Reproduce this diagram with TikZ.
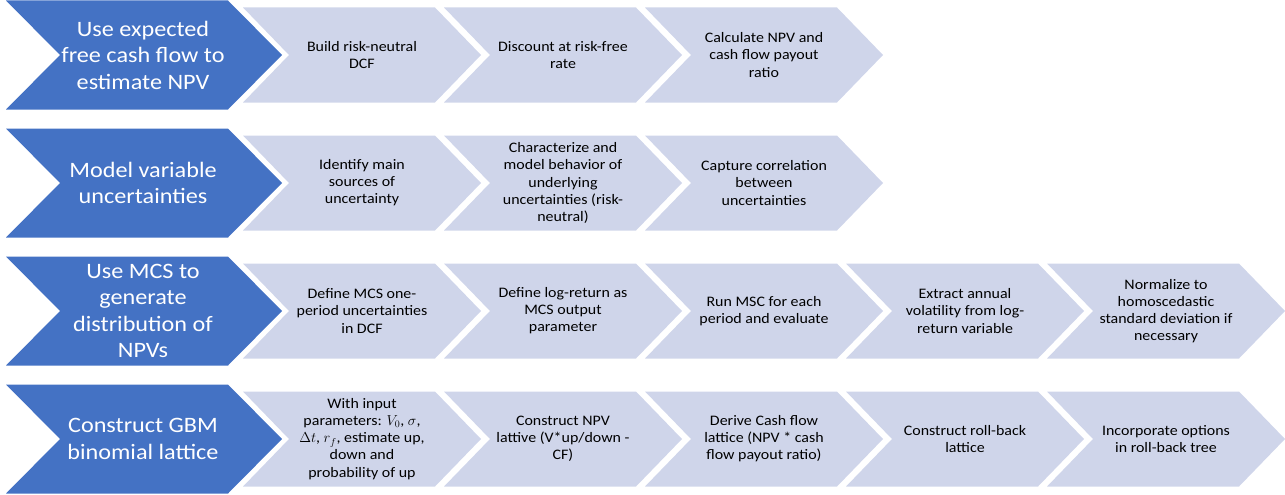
\documentclass[tikz,border=0pt]{standalone}
\usepackage{fontspec}
\setmainfont{Carlito}[FakeStretch=1.1]
\definecolor{chevblue}{HTML}{4472C4}
\definecolor{chevlight}{HTML}{CFD5EA}
\newcommand\mychev[6]{\fill[#1] (#2,#3-#5/2) -- (#2+#4-#6,#3-#5/2) -- (#2+#4,#3) -- (#2+#4-#6,#3+#5/2) -- (#2,#3+#5/2) -- (#2+#6,#3) -- cycle;}
\tikzset{
  bigtxt/.style={text=white, font=\fontsize{22}{26.5}\selectfont, align=center, inner sep=0pt},
  smalltxt/.style={text=black, font=\fontsize{14.5}{17.1}\selectfont, align=center, inner sep=0pt},
}
\begin{document}
\begin{tikzpicture}[x=1pt,y=-1pt]
\useasboundingbox (0,0) rectangle (1285,495);
% blue chevrons
\foreach \yc in {55,183,311,439}{
  \mychev{chevblue}{6}{\yc}{276}{109}{54}
}
% light chevrons
\foreach \yc/\n in {55/3,183/3,311/5,439/5}{
  \foreach \i in {1,...,\n}{
    \pgfmathsetmacro\xl{243+201*(\i-1)}
    \mychev{chevlight}{\xl}{\yc}{238}{95}{46}
  }
}
% blue texts
\node[bigtxt] (b1) at (143,55) {Use expected\\free cash flow to\\estimate NPV};
\node[bigtxt] (b2) at (143,183) {Model variable\\uncertainties};
\node[bigtxt] (b3) at (143,311) {Use MCS to\\generate\\distribution of\\NPVs};
\node[bigtxt] (b4) at (143,439) {Construct GBM\\binomial lattice};
% row 1
\node[smalltxt] (r1a) at (362,55) {Build risk-neutral\\DCF};
\node[smalltxt] (r1b) at (563,55) {Discount at risk-free\\rate};
\node[smalltxt] (r1c) at (764,55) {Calculate NPV and\\cash flow payout\\ratio};
% row 2
\node[smalltxt] (r2a) at (362,183) {Identify main\\sources of\\uncertainty};
\node[smalltxt] (r2b) at (563,183) {Characterize and\\model behavior of\\underlying\\uncertainties (risk-\\neutral)};
\node[smalltxt] (r2c) at (764,183) {Capture correlation\\between\\uncertainties};
% row 3
\node[smalltxt] (r3a) at (362,311) {Define MCS one-\\period uncertainties\\in DCF};
\node[smalltxt] (r3b) at (563,311) {Define log-return as\\MCS output\\parameter};
\node[smalltxt] (r3c) at (764,311) {Run MSC for each\\period and evaluate};
\node[smalltxt] (r3d) at (965,311) {Extract annual\\volatility from log-\\return variable};
\node[smalltxt] (r3e) at (1166,311) {Normalize to\\homoscedastic\\standard deviation if\\necessary};
% row 4
\node[smalltxt] (r4a) at (362,439) {With input\\parameters: $V_0$, $\sigma$,\\$\Delta t$, $r_f$, estimate up,\\down and\\probability of up};
\node[smalltxt] (r4b) at (563,439) {Construct NPV\\lattive (V*up/down -\\CF)};
\node[smalltxt] (r4c) at (764,439) {Derive Cash flow\\lattice (NPV * cash\\flow payout ratio)};
\node[smalltxt] (r4d) at (965,439) {Construct roll-back\\lattice};
\node[smalltxt] (r4e) at (1166,439) {Incorporate options\\in roll-back tree};
\end{tikzpicture}
\end{document}
